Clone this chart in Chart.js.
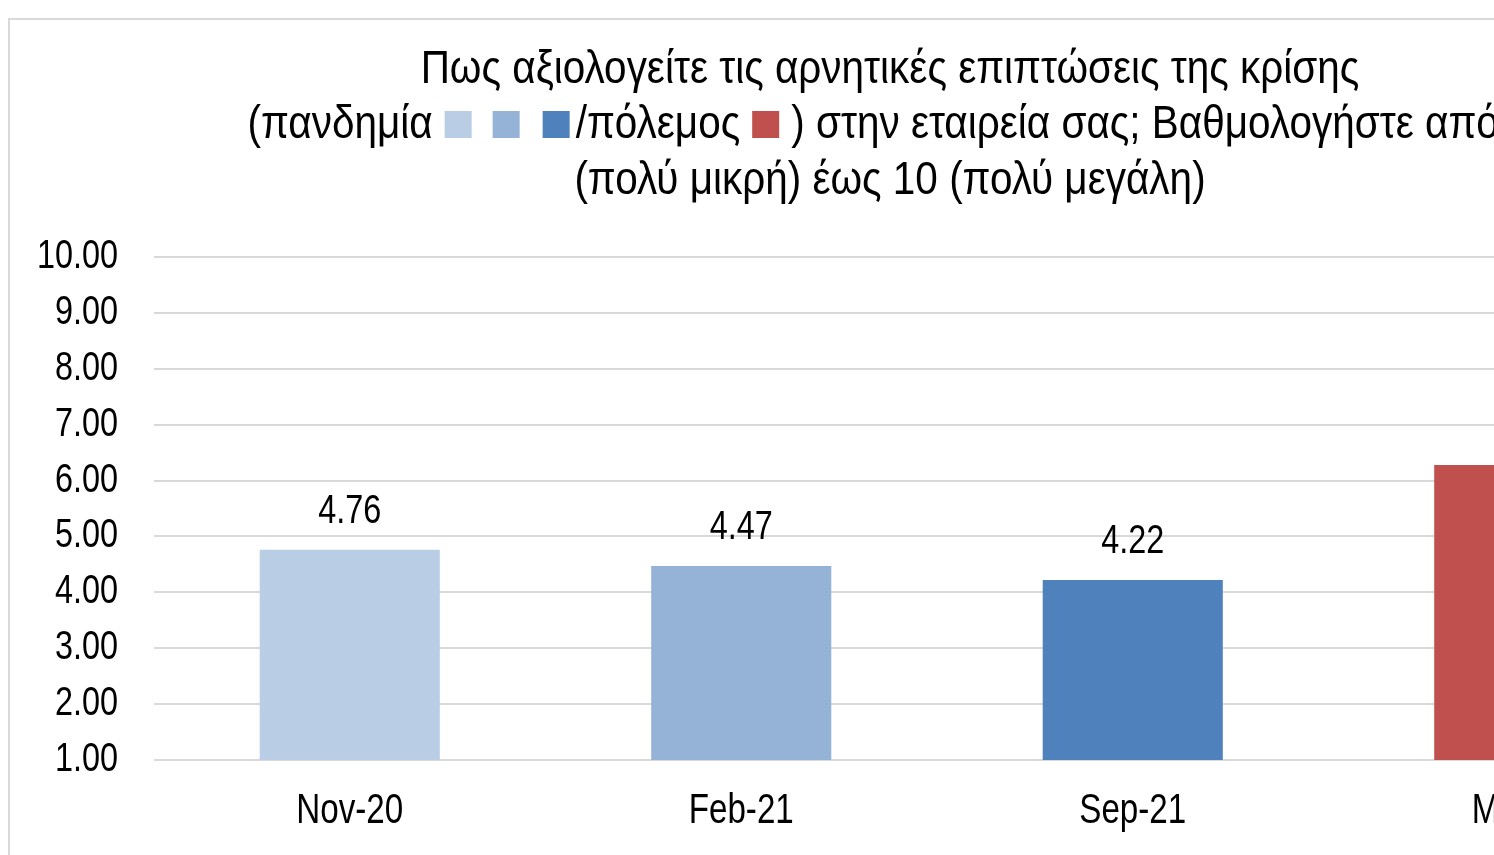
<!DOCTYPE html>
<html>
<head>
<meta charset="utf-8">
<script src="https://cdn.jsdelivr.net/npm/chart.js@4.4.1/dist/chart.umd.min.js"></script>
<style>
  html, body { margin: 0; padding: 0; background: #fff; overflow: hidden; }
  body { width: 1494px; height: 855px; position: relative; }
  .frame {
    position: absolute; left: 8px; top: 18px; width: 1900px; height: 900px;
    border-left: 2px solid #d9d9d9; border-top: 2px solid #d9d9d9;
  }
  .wrap { position: absolute; left: 10px; top: 20px; width: 1760px; height: 835px; }
</style>
</head>
<body>
<div class="frame"></div>
<div class="wrap"><canvas id="myChart"></canvas></div>
<script>
const categories = ["Nov-20", "Feb-21", "Sep-21", "Mar-22"];
const scores = [4.76, 4.47, 4.22, 6.28];
const barColors = ["#b9cde5", "#95b3d7", "#4f81bd", "#c0504d"];
const yTicks = [1, 2, 3, 4, 5, 6, 7, 8, 9, 10];

const titleLine1 = "Πως αξιολογείτε τις αρνητικές επιπτώσεις της κρίσης";
const titleLine2 = [
  { text: "(πανδημία" }, { gap: 12 },
  { box: barColors[0] }, { gap: 21 },
  { box: barColors[1] }, { gap: 23 },
  { box: barColors[2] }, { gap: 6 },
  { text: "/πόλεμος" }, { gap: 12 },
  { box: barColors[3] }, { gap: 12 },
  { text: ") στην εταιρεία σας; Βαθμολογήστε από 1" },
];
const titleLine3 = "(πολύ μικρή) έως 10 (πολύ μεγάλη)";

// no Arial Narrow here, so squeeze Liberation Sans sideways
const FONT = "'Liberation Sans', Arial, sans-serif";

function narrowText(c, text, x, y, size, sx, align) {
  c.save();
  c.font = size + "px " + FONT;
  c.textAlign = align;
  c.textBaseline = "middle";
  c.translate(x, y);
  c.scale(sx, 1);
  c.fillText(text, 0, 0);
  c.restore();
}
function narrowWidth(c, text, size, sx) {
  c.save();
  c.font = size + "px " + FONT;
  const w = c.measureText(text).width * sx;
  c.restore();
  return w;
}

const titlePlugin = {
  id: "titleLines",
  afterDraw(chart) {
    const c = chart.ctx;
    const cx = chart.width / 2;
    const size = 46, sx = 0.88, box = 27;
    c.save();
    c.fillStyle = "#000";
    narrowText(c, titleLine1, cx, 50, size, sx, "center");
    narrowText(c, titleLine3, cx, 161, size, sx, "center");
    const w = s => s.box ? box : s.gap ? s.gap : narrowWidth(c, s.text, size, sx);
    let total = 0;
    titleLine2.forEach(s => { total += w(s); });
    let x = cx - total / 2;
    titleLine2.forEach(s => {
      if (s.box) {
        c.fillStyle = s.box;
        c.fillRect(x, 104.5 - box / 2, box, box);
      } else if (s.text) {
        c.fillStyle = "#000";
        narrowText(c, s.text, x, 105, size, sx, "left");
      }
      x += w(s);
    });
    c.restore();
  },
};

// axis labels and value labels, placed by the chart's own scales
const labelPlugin = {
  id: "labels",
  afterDatasetsDraw(chart) {
    const c = chart.ctx;
    const area = chart.chartArea;
    const xs = chart.scales.x;
    const ys = chart.scales.y;
    c.save();
    c.fillStyle = "#000";
    yTicks.forEach(v => {
      narrowText(c, v.toFixed(2), area.left - 36, ys.getPixelForValue(v), 40, 0.81, "right");
    });
    categories.forEach((lab, i) => {
      narrowText(c, lab, xs.getPixelForValue(i), area.bottom + 51, 42, 0.79, "center");
    });
    chart.getDatasetMeta(0).data.forEach((bar, i) => {
      narrowText(c, scores[i].toFixed(2), bar.x, bar.y - 38, 40, 0.81, "center");
    });
    c.restore();
  },
};

const ctx = document.getElementById("myChart").getContext("2d");
const chart = new Chart(ctx, {
  type: "bar",
  data: {
    labels: categories,
    datasets: [
      {
        data: scores,
        backgroundColor: barColors,
        barPercentage: 0.46,
        categoryPercentage: 1,
      },
    ],
  },
  options: {
    responsive: true,
    maintainAspectRatio: false,
    animation: false,
    layout: { padding: { top: 237, right: 50, left: 0, bottom: 0 } },
    plugins: {
      legend: { display: false },
      tooltip: { enabled: false },
    },
    scales: {
      x: {
        grid: { display: false, drawTicks: false },
        border: { display: false },
        ticks: { display: false },
        afterFit(scale) { scale.height = 95; },
      },
      y: {
        min: 1,
        max: 10,
        afterBuildTicks(scale) { scale.ticks = yTicks.map(v => ({ value: v })); },
        grid: { color: "#d9d9d9", lineWidth: 2, drawTicks: false },
        border: { display: false },
        ticks: { display: false },
        afterFit(scale) { scale.width = 144; },
      },
    },
  },
  plugins: [titlePlugin, labelPlugin],
});
</script>
</body>
</html>
